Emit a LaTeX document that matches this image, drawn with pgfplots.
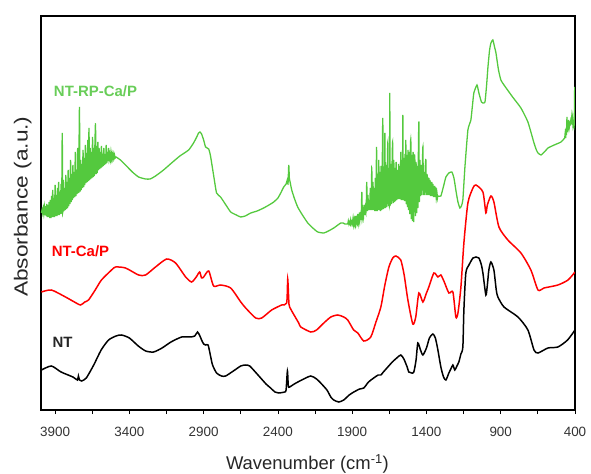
\documentclass[border=0pt]{standalone}
\usepackage{fontspec}
\setmainfont{Liberation Sans}
\usepackage{graphicx}
\usepackage{pgfplots}
\pgfplotsset{compat=1.18}

\definecolor{ftirgreen}{RGB}{84,201,62}
\definecolor{ftirgreenlabel}{RGB}{104,205,88}
\definecolor{ftirred}{RGB}{255,0,0}

\begin{document}
\begin{tikzpicture}
\path[use as bounding box] (-41bp,-64bp) rectangle (550bp,410bp);
\begin{axis}[
  at={(0,0)}, anchor=south west,
  scale only axis,
  width=534bp, height=394bp,
  x dir=reverse,
  xmin=400, xmax=3995,
  ymin=0, ymax=394,
  xtick={400,900,1400,1900,2400,2900,3400,3900},
  minor x tick num=1,
  ytick=\empty,
  xtick pos=bottom,
  xtick align=outside,
  major tick length=4bp,
  minor tick length=4bp,
  every tick/.style={black, line width=0.8pt},
  axis line style={line width=1.4pt},
  /pgf/number format/assume math mode=true,
  /pgf/number format/1000 sep={},
  xticklabel style={font=\fontsize{13.5}{16}\selectfont, text=black!80, yshift=-10bp},
  xlabel={Wavenumber (cm\textsuperscript{-1})},
  xlabel style={font=\fontsize{18.5}{22}\selectfont, text=black!85,
    at={(axis description cs:0.499,-0.152)}, anchor=base},
  ylabel={\scalebox{1.2}[1]{Absorbance (a.u.)}},
  ylabel style={font=\fontsize{19}{22}\selectfont, text=black!85,
    at={(axis description cs:-0.034,0.516)}, anchor=center, rotate=0},
  clip=true,
]

% NT
\addplot[black, line width=1.5pt, smooth, tension=0.4] coordinates {
(3992,40)(3925,44)(3860,38)(3780,33)(3750,30)(3743,34)(3736,30)(3722,29)
(3690,32)(3640,45)(3590,60)(3540,70)(3490,74)(3453,75)(3400,72)(3340,64)
(3290,59)(3237,58)(3180,62)(3120,68)(3048,73)(2990,73)(2960,74)(2941,78)
(2925,74)(2914,70)(2900,66)(2887,65)(2870,65)(2855,55)(2840,45)(2813,37)
(2780,34)(2752,34)(2700,39)(2650,44)(2617,45)(2590,44)(2540,36)(2480,26)
(2449,22)(2420,18)(2395,17)(2355,18)(2345,20)(2336,39)(2330,24)(2321,23)
(2290,26)(2240,30)(2179,34)(2140,31)(2112,27)(2070,20)(2044,13)(2024,10)
(1990,8)(1957,10)(1920,15)(1889,18)(1850,21)(1822,22)(1790,28)(1755,32)
(1725,35)(1707,35)(1690,38)(1660,43)(1630,48)(1600,52)(1573,55)(1552,51)
(1530,43)(1519,38)(1500,37)(1485,38)(1470,50)(1458,67)(1440,60)(1424,55)
(1400,62)(1380,72)(1357,76)(1340,72)(1323,60)(1303,43)(1285,33)(1269,30)
(1249,37)(1236,41)(1222,45)(1209,40)(1195,44)(1182,48)(1168,56)(1155,63)
(1148,100)(1135,137)(1114,145)(1087,152)(1067,153)(1047,152)(1030,145)
(1020,137)(1000,115)(990,125)(980,140)(966,148)(946,140)(930,120)(919,113)
(878,103)(784,93)(717,80)(676,60)(649,57)(582,62)(515,63)(450,70)(400,80)
};

% NT-Ca/P
\addplot[ftirred, line width=1.5pt, smooth, tension=0.4] coordinates {
(3992,118)(3925,120)(3830,113)(3770,108)(3729,105)(3700,108)(3675,110)
(3630,120)(3588,130)(3520,140)(3493,143)(3426,142)(3338,135)(3291,135)
(3224,143)(3149,151)(3089,147)(3021,133)(2981,128)(2950,133)(2927,138)
(2914,132)(2900,133)(2866,139)(2833,124)(2786,125)(2718,122)(2650,108)
(2617,102)(2550,92)(2509,92)(2442,100)(2375,105)(2341,107)(2334,131)
(2327,110)(2321,103)(2260,87)(2246,83)(2179,78)(2140,80)(2091,87)(2044,93)
(1997,95)(1957,93)(1930,90)(1890,80)(1862,77)(1822,69)(1775,73)(1740,88)
(1707,103)(1680,125)(1653,143)(1627,152)(1606,154)(1573,150)(1550,135)
(1525,110)(1492,86)(1472,93)(1451,117)(1424,108)(1400,117)(1384,123)
(1350,137)(1323,133)(1303,135)(1280,128)(1249,117)(1222,118)(1202,93)
(1188,97)(1168,123)(1148,167)(1121,207)(1087,222)(1067,225)(1020,218)
(1000,197)(990,205)(966,214)(946,208)(912,183)(852,170)(764,157)(697,140)
(649,120)(609,122)(515,125)(447,130)(400,138)
};

% NT-RP-Ca/P
\addplot[ftirgreen, line width=1.3pt, smooth, tension=0.3] coordinates {
(3992,197)(3988,200)(3984,197)(3980,202)(3976,196)(3972,203)(3968,195)
(3964,204)(3960,194)(3956,206)(3952,193)(3948,205)(3944,193)(3940,208)
(3936,192)(3932,210)(3928,192)(3924,214)(3920,193)(3916,220)(3912,193)
(3908,212)(3904,193)(3900,225)(3896,194)(3892,215)(3888,194)(3884,222)
(3880,195)(3876,228)(3872,195)(3868,218)(3864,196)(3860,226)(3856,197)
(3852,277)(3848,198)(3844,230)(3840,199)(3836,222)(3832,200)(3828,235)
(3824,201)(3820,228)(3816,202)(3812,240)(3808,204)(3804,232)(3800,206)
(3796,250)(3792,208)(3788,236)(3784,210)(3780,245)(3776,212)(3772,238)
(3768,213)(3764,258)(3760,214)(3756,240)(3752,216)(3748,262)(3744,217)
(3740,245)(3736,303)(3732,219)(3728,250)(3724,220)(3720,246)(3716,222)
(3712,260)(3708,223)(3704,252)(3700,225)(3696,265)(3692,227)(3688,257)
(3684,228)(3680,270)(3676,229)(3672,282)(3668,230)(3664,262)(3660,231)
(3656,258)(3652,232)(3648,273)(3644,233)(3640,262)(3636,234)(3632,266)
(3628,286)(3624,236)(3620,264)(3616,237)(3612,268)(3608,240)(3604,262)
(3600,241)(3596,258)(3592,242)(3588,264)(3584,243)(3580,256)(3576,244)
(3572,262)(3568,245)(3564,256)(3560,246)(3556,265)(3552,247)(3548,258)
(3544,249)(3540,262)(3536,250)(3532,255)(3528,250)(3524,258)(3520,251)
(3516,256)(3512,251)(3508,256)(3504,252)(3500,255)(3496,252)(3490,253)
(3460,250)(3426,245)(3380,238)(3338,233)(3291,231)(3260,231)(3224,234)
(3170,240)(3116,247)(3060,254)(3001,260)(2968,267)(2950,272)(2934,277)
(2925,278)(2914,276)(2900,270)(2887,263)(2866,261)(2855,255)(2846,247)
(2830,232)(2813,217)(2786,213)(2750,205)(2718,198)(2680,195)(2651,193)
(2620,194)(2583,197)(2540,199)(2496,202)(2460,205)(2428,208)(2400,212)
(2381,217)(2361,223)(2345,226)(2337,230)(2332,226)(2327,245)(2323,232)
(2318,228)(2307,220)(2290,212)(2267,203)(2235,195)(2199,187)(2165,182)
(2132,178)(2091,177)(2060,179)(2024,182)(1977,187)
(1960,187)(1950,186)(1940,186)(1930,186)(1926,189)(1922,186)(1918,188)
(1914,186)(1910,190)(1906,186)(1902,188)(1898,186)(1894,192)(1890,185)
(1886,190)(1882,185)(1878,194)(1874,186)(1870,191)(1866,187)(1862,196)
(1858,187)(1854,193)(1850,188)(1846,198)(1842,190)(1838,200)(1835,218)
(1832,191)(1828,199)(1824,193)(1820,205)(1816,195)(1812,202)(1808,197)
(1804,212)(1802,228)(1798,199)(1794,215)(1790,200)(1786,210)(1782,200)
(1778,222)(1774,200)(1770,226)(1768,242)(1764,200)(1760,228)(1756,200)
(1752,222)(1748,199)(1744,232)(1740,199)(1736,263)(1732,199)(1728,236)
(1724,200)(1721,250)(1718,200)(1714,238)(1710,199)(1706,244)(1702,200)
(1698,236)(1694,292)(1690,201)(1686,240)(1682,202)(1680,277)(1676,202)
(1672,245)(1668,203)(1664,238)(1660,268)(1656,204)(1652,242)(1648,205)
(1647,317)(1644,205)(1640,246)(1636,206)(1632,240)(1628,268)(1624,207)
(1620,250)(1616,208)(1612,242)(1608,209)(1604,248)(1600,210)(1596,240)
(1592,211)(1588,246)(1584,211)(1580,244)(1576,211)(1573,258)(1570,210)
(1566,250)(1562,210)(1559,295)(1556,210)(1552,252)(1548,209)(1544,256)
(1540,209)(1539,270)(1536,206)(1532,255)(1528,203)(1524,260)(1520,200)
(1516,258)(1512,196)(1508,262)(1505,268)(1502,191)(1498,255)(1494,189)
(1490,258)(1486,188)(1482,252)(1478,250)(1474,194)(1470,248)(1466,197)
(1462,244)(1458,202)(1454,262)(1451,288)(1448,208)(1444,250)(1440,214)
(1436,245)(1432,215)(1428,240)(1424,263)(1420,215)(1416,238)(1412,215)
(1408,242)(1404,250)(1400,215)(1396,236)(1392,215)(1391,233)(1388,215)
(1384,232)(1380,215)(1376,230)(1372,214)(1371,225)(1368,214)(1364,228)
(1360,214)(1356,226)(1352,213)(1348,224)(1344,213)(1340,222)(1337,220)
(1334,212)(1330,218)(1326,212)(1323,214)
(1303,214)(1283,225)(1269,233)(1249,237)(1229,238)(1215,232)(1200,218)
(1188,208)(1175,202)(1165,204)(1155,210)(1141,243)(1121,280)(1101,290)
(1090,305)(1081,317)(1060,325)(1047,317)(1030,308)(1020,307)(1006,308)
(995,325)(986,343)(975,360)(966,367)(953,370)(940,362)(932,357)(915,340)
(899,330)(878,325)(820,313)(764,302)(717,288)(676,267)(660,260)(649,257)
(629,255)(600,259)(582,262)(540,265)(494,268)(470,272)(466,277)(463,272)
(460,281)(457,275)(454,293)(451,278)(448,286)(445,280)(442,290)(439,282)
(436,285)(432,285)(428,290)(424,288)(420,296)(416,290)(413,283)(408,288)
(405,286)(402,323)(400,300)
};

\node[font=\fontsize{15}{18}\selectfont\bfseries, text=ftirgreenlabel] at (axis cs:3628,319) {NT-RP-Ca/P};
\node[font=\fontsize{15}{18}\selectfont\bfseries, text=ftirred] at (axis cs:3729,159) {NT-Ca/P};
\node[font=\fontsize{15}{18}\selectfont\bfseries, text=black!85] at (axis cs:3850,68) {NT};
\end{axis}
\end{tikzpicture}
\end{document}
